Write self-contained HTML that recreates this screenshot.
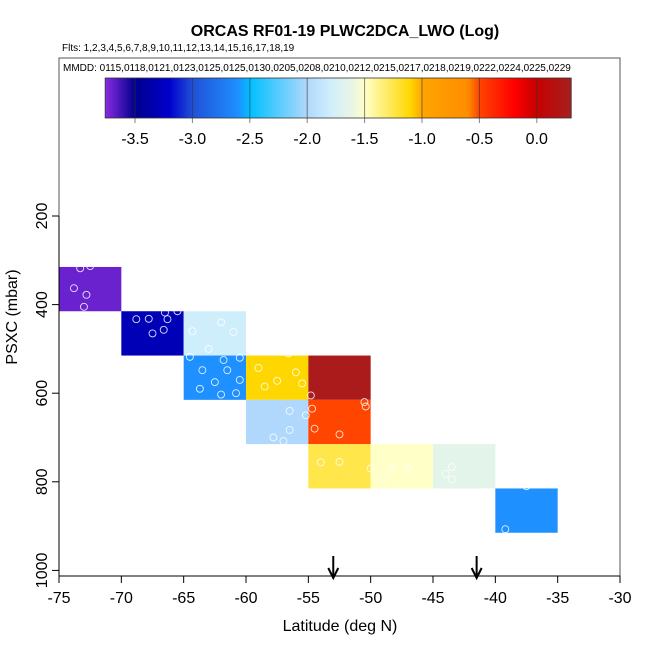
<!DOCTYPE html>
<html><head><meta charset="utf-8"><style>
body{margin:0;background:#fff;}
svg text{font-family:"Liberation Sans",sans-serif;}
</style></head><body>
<svg id="chart" width="650" height="650" viewBox="0 0 650 650" xmlns="http://www.w3.org/2000/svg">
<defs>
<linearGradient id="cbg" x1="0" x2="1" y1="0" y2="0"></linearGradient>
</defs>
<text x="345" y="36" text-anchor="middle" font-size="16" font-weight="bold">ORCAS RF01-19 PLWC2DCA_LWO (Log)</text>
<text x="62" y="51" font-size="10">Flts: 1,2,3,4,5,6,7,8,9,10,11,12,13,14,15,16,17,18,19</text>
<rect x="59" y="58" width="561" height="518" fill="none" stroke="#555" stroke-width="1"/>
<text x="63" y="71" font-size="10">MMDD: 0115,0118,0121,0123,0125,0125,0130,0205,0208,0210,0212,0215,0217,0218,0219,0222,0224,0225,0229</text>
<g id="cells"></g>
<g id="pts"></g>
<g id="cbar"></g>
<g id="axes"></g>
<text x="340" y="631" text-anchor="middle" font-size="16">Latitude (deg N)</text>
<text transform="translate(17,317) rotate(-90)" text-anchor="middle" font-size="16">PSXC (mbar)</text>
</svg>
<script>
const cellLon=[-75,-70,-65,-65,-60,-55,-60,-55,-55,-50,-45,-40];
const cellP=[315,415,415,515,515,515,615,615,715,715,715,815];
const cellVal=[-3.7,-3.3,-1.8,-2.6,-1.1,0.25,-2.0,-0.5,-1.25,-1.5,-1.65,-2.6];
const ptLon=[-72.5,-73.3,-73.8,-72.8,-73,-68.8,-67.8,-66.3,-67.5,-66.6,-65.5,-66.5,-64.3,-62,-61,-63,-64.5,-63.5,-62.5,-61.5,-60.5,-63.7,-62,-60.8,-61.8,-60.5,-59,-57.5,-56,-55.5,-56.6,-58.5,-56.5,-57.8,-57,-55.2,-56.5,-54.7,-54.8,-52.5,-50.5,-50.4,-54.5,-49.5,-54,-52.5,-50,-49,-48.3,-44,-43.5,-43.5,-47,-41,-39.2,-37.5];
const ptP=[313,318,363,378,405,433,432,433,465,457,415,418,460,440,462,500,518,548,575,548,570,590,603,600,525,520,543,572,553,578,510,585,640,700,708,650,683,635,605,693,620,630,680,700,756,755,770,795,770,782,767,795,770,823,907,810];
const xTicks=[-75,-70,-65,-60,-55,-50,-45,-40,-35,-30];
const yTicks=[200,400,600,800,1000];
const cbTicks=[-3.5,-3.0,-2.5,-2.0,-1.5,-1.0,-0.5,0.0];
const arrowLon=[-53.0,-41.5];
const cbStops=[[-3.76,'#8a2be2'],[-3.5,'#00008b'],[-3.2,'#0000cd'],[-3.0,'#2050d8'],[-2.6,'#1e90ff'],[-2.5,'#00bfff'],[-2.0,'#b0d8fc'],[-1.8,'#cfeefc'],[-1.6,'#eaf6e4'],[-1.5,'#ffffc8'],[-1.1,'#ffd700'],[-1.0,'#ffa500'],[-0.6,'#ff8c00'],[-0.5,'#ff4500'],[-0.2,'#ff0000'],[0.0,'#c80000'],[0.3,'#a52020']];
const X=v=>59+(v+75)*561/45;
const Y=p=>216+(p-200)*88.6/200;
const CB=v=>135+(v+3.5)*114.8;
const NS='http://www.w3.org/2000/svg';
function mk(t,a,par){const e=document.createElementNS(NS,t);for(const k in a)e.setAttribute(k,a[k]);par.appendChild(e);return e;}
function hex(c){return [1,3,5].map(i=>parseInt(c.substr(i,2),16));}
function col(v){if(v<=cbStops[0][0])return cbStops[0][1];for(let i=1;i<cbStops.length;i++){if(v<=cbStops[i][0]){const a=cbStops[i-1],b=cbStops[i];const t=(v-a[0])/(b[0]-a[0]);const A=hex(a[1]),B=hex(b[1]);return 'rgb('+A.map((x,j)=>Math.round(x+(B[j]-x)*t)).join(',')+')';}}return cbStops[cbStops.length-1][1];}
const cells=document.getElementById('cells');
cellLon.forEach((l,i)=>{const r=mk('rect',{x:X(l),y:Y(cellP[i]),width:X(l+5)-X(l),height:Y(cellP[i]+100)-Y(cellP[i]),fill:col(cellVal[i])},cells);

});
const pts=document.getElementById('pts');
ptLon.forEach((l,i)=>{const c=mk('circle',{cx:X(l),cy:Y(ptP[i]),r:3.5,fill:'none',stroke:'#fff','stroke-width':0.9,opacity:0.85},pts);

});
const g=document.getElementById('cbg');const lo=-3.76,hi=0.3;
cbStops.forEach(s=>mk('stop',{offset:((s[0]-lo)/(hi-lo)),'stop-color':s[1]},g));
const cb=document.getElementById('cbar');
mk('rect',{x:CB(lo),y:78,width:CB(hi)-CB(lo),height:40,fill:'url(#cbg)',stroke:'#333','stroke-width':0.8},cb);
cbTicks.forEach(v=>{const x=CB(v);mk('line',{x1:x,x2:x,y1:78,y2:123,stroke:'#333','stroke-opacity':0.6,'stroke-width':1},cb);
const t=mk('text',{x:x,y:144,'text-anchor':'middle','font-size':16},cb);t.textContent=v.toFixed(1);

});
const ax=document.getElementById('axes');
mk('line',{x1:59,x2:620,y1:576,y2:576,stroke:'#000'},ax);
mk('line',{x1:59,x2:59,y1:216,y2:576,stroke:'#000'},ax);
xTicks.forEach(v=>{const x=X(v);mk('line',{x1:x,x2:x,y1:576,y2:583,stroke:'#000'},ax);
const t=mk('text',{x:x,y:603,'text-anchor':'middle','font-size':16},ax);t.textContent=v;

});
yTicks.forEach(v=>{const y=Y(v);mk('line',{x1:52,x2:59,y1:y,y2:y,stroke:'#000'},ax);
const t=mk('text',{transform:'translate(47,'+y+') rotate(-90)','text-anchor':'middle','font-size':16},ax);t.textContent=v;

});
arrowLon.forEach(v=>{const x=X(v);mk('line',{x1:x,x2:x,y1:556,y2:576,stroke:'#000','stroke-width':2},ax);
const a=mk('path',{d:`M${x-5},${568}L${x},${578}L${x+5},${568}`,fill:'none',stroke:'#000','stroke-width':2},ax);

});
</script>
</body></html>
